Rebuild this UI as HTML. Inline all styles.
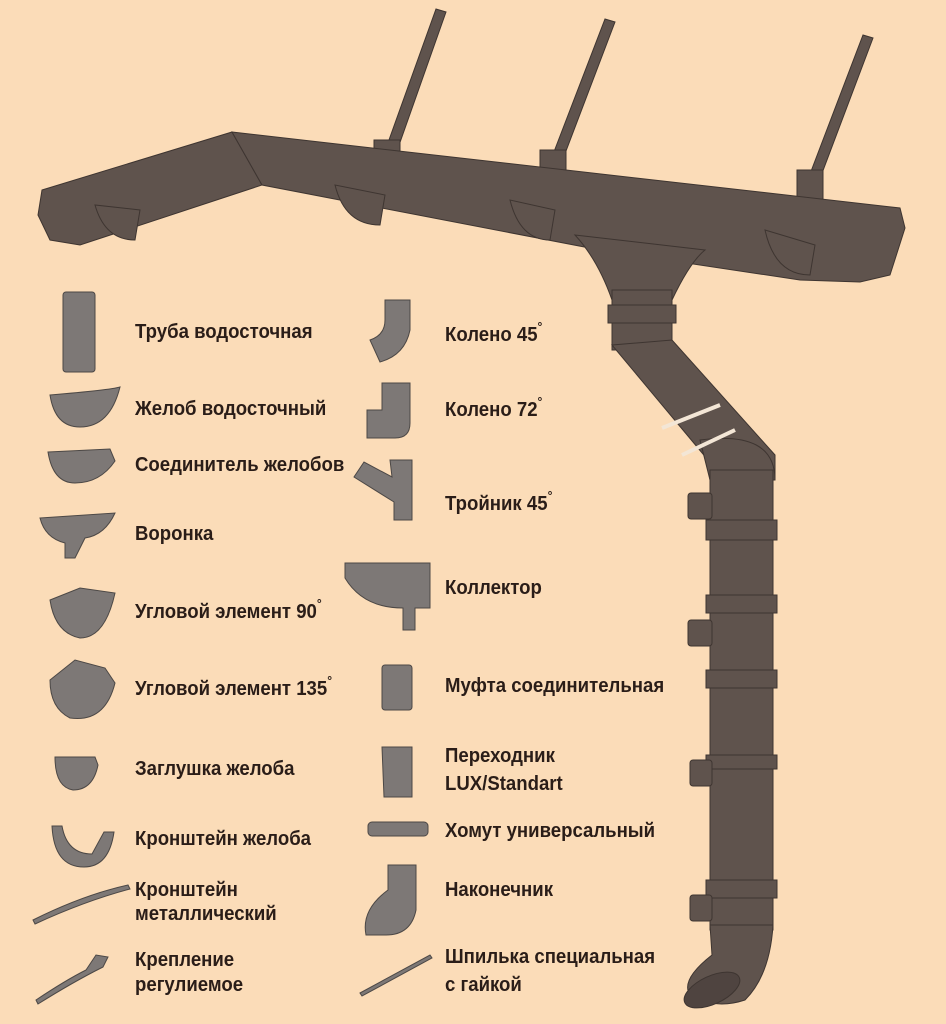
<!DOCTYPE html>
<html><head><meta charset="utf-8"><style>
html,body{margin:0;padding:0;background:#fbdcb8;}
svg{display:block}
text{font-family:"Liberation Sans",sans-serif;font-weight:bold;font-size:20px;fill:#2a1d18;}
</style></head><body>
<svg width="946" height="1024" viewBox="0 0 946 1024" xmlns="http://www.w3.org/2000/svg">
<rect width="946" height="1024" fill="#fbdcb8"/>
<g fill="#5f534d" stroke="#3e3531" stroke-width="1">
<polygon points="380,165 392,165 446,12 436,9"/>
<polygon points="547,170 558,172 615,22 605,19"/>
<polygon points="802,195 813,197 873,38 863,35"/>
<rect x="374" y="140" width="26" height="30"/>
<rect x="540" y="150" width="26" height="30"/>
<rect x="797" y="170" width="26" height="30"/>
<polygon points="42,190 232,132 262,185 80,245 50,240 38,215"/>
<polygon points="232,132 900,208 905,228 890,275 860,282 800,280 600,250 262,185"/>
<path d="M95,205 q10,35 40,35 l5,-30z"/>
<path d="M335,185 q10,40 45,40 l5,-30z"/>
<path d="M510,200 q10,40 40,40 l5,-30z"/>
<path d="M765,230 q10,45 45,45 l5,-30z"/>
<path d="M575,235 L705,250 Q690,262 672,300 L612,300 Q598,260 575,235z"/>
<rect x="612" y="290" width="60" height="60"/>
<polygon points="612,345 672,340 775,455 775,480 710,480 708,460"/>
<path d="M700,440 Q775,430 775,480 L710,480z"/>
<rect x="710" y="470" width="63" height="460"/>
<path d="M710,925 L773,925 Q770,975 745,1000 Q715,1010 690,995 Q680,980 712,955z"/>
<ellipse cx="712" cy="990" rx="30" ry="14" transform="rotate(-25 712 990)" fill="#4f4440"/>
<rect x="608" y="305" width="68" height="18"/>
<rect x="706" y="520" width="71" height="20"/>
<rect x="706" y="595" width="71" height="18"/>
<rect x="706" y="670" width="71" height="18"/>
<rect x="706" y="755" width="71" height="14"/>
<rect x="706" y="880" width="71" height="18"/>
<rect x="688" y="493" width="24" height="26" rx="3"/>
<rect x="688" y="620" width="24" height="26" rx="3"/>
<rect x="690" y="760" width="22" height="26" rx="3"/>
<rect x="690" y="895" width="22" height="26" rx="3"/>
</g>
<line x1="662" y1="428" x2="720" y2="405" stroke="#f3e6d6" stroke-width="4"/>
<line x1="682" y1="455" x2="735" y2="430" stroke="#f3e6d6" stroke-width="4"/>
<g fill="#7d7876" stroke="#4c4846" stroke-width="1">
<rect x="63" y="292" width="32" height="80" rx="3"/>
<path d="M50,395 q60,-5 70,-8 q-10,40 -40,40 q-25,0 -30,-32z"/>
<path d="M48,452 l62,-3 l5,12 q-15,22 -40,22 q-22,0 -27,-31z"/>
<path d="M40,518 l75,-5 q-10,22 -30,25 l-10,20 l-10,0 l0,-15 q-20,-5 -25,-25z"/>
<path d="M50,600 l30,-12 l35,5 q-10,45 -35,45 q-25,-5 -30,-38z"/>
<path d="M50,680 l25,-20 l30,8 l10,15 q-10,40 -45,35 q-20,-10 -20,-38z"/>
<path d="M55,757 l40,0 l3,8 q-5,25 -25,25 q-18,-3 -18,-33z"/>
<path d="M52,826 l10,0 q5,28 30,28 l12,-22 l10,0 q-5,35 -30,35 q-30,0 -32,-41z"/>
<path d="M33,920 q50,-25 95,-35 l2,4 q-45,12 -95,35z"/>
<path d="M36,1000 q30,-20 50,-30 l10,-15 l12,2 l-5,10 q-30,15 -65,37z"/>
</g>
<g fill="#7d7876" stroke="#4c4846" stroke-width="1">
<path d="M385,300 l25,0 l0,30 q-5,25 -30,32 l-10,-22 q15,-5 15,-20z"/>
<path d="M382,383 l28,0 l0,40 q0,15 -15,15 l-28,0 l0,-28 l15,0z"/>
<path d="M390,460 l22,0 l0,60 l-18,0 l0,-18 l-40,-25 l10,-15 l28,15z"/>
<path d="M345,563 l85,0 l0,45 l-15,0 l0,22 l-12,0 l0,-22 q-40,0 -58,-30z"/>
<rect x="382" y="665" width="30" height="45" rx="3"/>
<path d="M382,747 l30,0 l0,50 l-28,0z"/>
<rect x="368" y="822" width="60" height="14" rx="4"/>
<path d="M388,865 l28,0 l0,45 q-5,25 -30,25 l-20,0 q-5,-25 22,-45z"/>
<path d="M360,993 l70,-38 l2,3 l-70,38z"/>
</g>
<g transform="translate(135,0) scale(0.93,1)">
<text x="0" y="338">Труба водосточная</text>
<text x="0" y="415">Желоб водосточный</text>
<text x="0" y="471">Соединитель желобов</text>
<text x="0" y="540">Воронка</text>
<text x="0" y="618">Угловой элемент 90<tspan dy="-10" font-size="13">°</tspan></text>
<text x="0" y="695">Угловой элемент 135<tspan dy="-10" font-size="13">°</tspan></text>
<text x="0" y="775">Заглушка желоба</text>
<text x="0" y="845">Кронштейн желоба</text>
<text x="0" y="896">Кронштейн</text>
<text x="0" y="920">металлический</text>
<text x="0" y="966">Крепление</text>
<text x="0" y="991">регулиемое</text>
</g>
<g transform="translate(445,0) scale(0.93,1)">
<text x="0" y="341">Колено 45<tspan dy="-10" font-size="13">°</tspan></text>
<text x="0" y="416">Колено 72<tspan dy="-10" font-size="13">°</tspan></text>
<text x="0" y="510">Тройник 45<tspan dy="-10" font-size="13">°</tspan></text>
<text x="0" y="594">Коллектор</text>
<text x="0" y="692">Муфта соединительная</text>
<text x="0" y="762">Переходник</text>
<text x="0" y="790">LUX/Standart</text>
<text x="0" y="837">Хомут универсальный</text>
<text x="0" y="896">Наконечник</text>
<text x="0" y="963">Шпилька специальная</text>
<text x="0" y="991">с гайкой</text>
</g>
</svg>
</body></html>
